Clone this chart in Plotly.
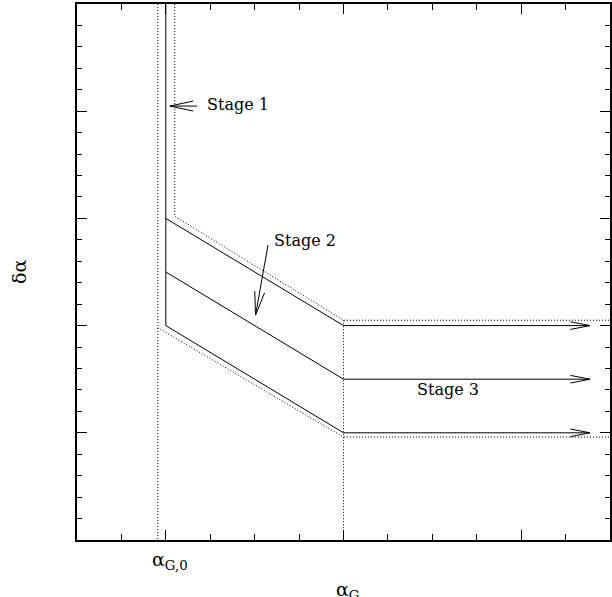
import math
import plotly.graph_objects as go

# ---- data ----
alpha_g0 = 2.0          # onset of stage 2 (solid vertical)
alpha_g1 = 6.0          # end of stage 2
x_arrow_tip = 11.55     # arrow tips of stage 3
band_start_y = [15.0, 12.5, 10.0]   # delta alpha at alpha_g0
band_end_y = [10.0, 7.5, 5.0]       # delta alpha at alpha_g1
# dotted envelope
upper_env_x = [2.2, 2.2, 6.0, 12.0]
upper_env_y = [25.0, 15.1, 10.25, 10.25]
left_env_x = [1.82, 1.82]
left_env_y = [25.0, 0.0]
lower_env_x = [1.82, 6.0, 12.0]
lower_env_y = [9.9, 4.8, 4.8]
mid_dot_x = [6.0, 6.0]
mid_dot_y = [10.25, 0.0]
# labels
stage_text = ["Stage 1", "Stage 2", "Stage 3"]
stage_x = [2.88, 4.39, 7.60]
stage_y = [20.3, 13.95, 7.04]
stage1_arrow = dict(tail=(2.70, 20.24), tip=(2.09, 20.24))
stage2_arrow = dict(tail=(4.30, 13.76), tip=(4.02, 10.49))
x_major_ticks = [2, 6, 10]
y_major_ticks = [5, 10, 15, 20]

XR = [0, 12]
YR = [0, 25]
W, H = 612, 597
ML, MR, MT, MB = 77, 2, 4, 57
sx = (W - ML - MR) / (XR[1] - XR[0])
sy = (H - MT - MB) / (YR[1] - YR[0])


def arrow_head(tip, tail, length=22, half_angle=12):
    tx, ty = tip[0] * sx, tip[1] * sy
    ux, uy = tail[0] * sx - tx, tail[1] * sy - ty
    n = math.hypot(ux, uy)
    ux, uy = ux / n, uy / n
    pts = []
    for s in (1, -1):
        a = math.radians(half_angle) * s
        bx = ux * math.cos(a) - uy * math.sin(a)
        by = ux * math.sin(a) + uy * math.cos(a)
        pts.append(((tx + bx * length) / sx, (ty + by * length) / sy))
    return [pts[0][0], tip[0], pts[1][0]], [pts[0][1], tip[1], pts[1][1]]


fig = go.Figure()
solid = dict(color="black", width=1)
dotted = dict(color="black", width=1, dash="1px,2px")


def add(x, y, line):
    fig.add_trace(go.Scatter(x=x, y=y, mode="lines", line=line,
                             showlegend=False, hoverinfo="skip"))


add([alpha_g0, alpha_g0], [YR[1], band_start_y[-1]], solid)
for y0, y1 in zip(band_start_y, band_end_y):
    add([alpha_g0, alpha_g1, x_arrow_tip], [y0, y1, y1], solid)
    hx, hy = arrow_head((x_arrow_tip, y1), (alpha_g1, y1), length=20, half_angle=11)
    add(hx, hy, solid)
add(upper_env_x, upper_env_y, dotted)
add(left_env_x, left_env_y, dotted)
add(lower_env_x, lower_env_y, dotted)
add(mid_dot_x, mid_dot_y, dotted)

for arr in (stage1_arrow, stage2_arrow):
    add([arr["tail"][0], arr["tip"][0]], [arr["tail"][1], arr["tip"][1]], solid)
    hx, hy = arrow_head(arr["tip"], arr["tail"], length=24, half_angle=12)
    add(hx, hy, solid)

# invisible trace to carry the mirrored (top/right) axes
fig.add_trace(go.Scatter(x=[XR[0]], y=[YR[0]], xaxis="x2", yaxis="y2", mode="markers",
                         marker=dict(opacity=0), showlegend=False, hoverinfo="skip"))

font = "DejaVu Serif"
for t, x, y in zip(stage_text, stage_x, stage_y):
    fig.add_annotation(x=x, y=y, text=t, showarrow=False, xanchor="left",
                       yanchor="middle", font=dict(family=font, size=16, color="black"))

fig.add_annotation(x=alpha_g0, y=0, yref="y", text="α<sub>G,0</sub>", showarrow=False,
                   xanchor="center", yanchor="top", yshift=-6, xshift=4,
                   font=dict(family=font, size=19, color="black"))
fig.add_annotation(x=0.5, xref="paper", y=0, yref="paper", text="α<sub>G</sub>",
                   showarrow=False, xanchor="center", yanchor="top", yshift=-36, xshift=4,
                   font=dict(family=font, size=19, color="black"))
fig.add_annotation(x=0, xref="paper", y=0.5, yref="paper", text="δα", textangle=-90,
                   showarrow=False, xanchor="center", yanchor="middle", xshift=-58,
                   font=dict(family=font, size=19, color="black"))

axis_common = dict(showline=True, linewidth=2, linecolor="black", mirror=True,
                   ticks="inside", ticklen=10, tickwidth=1, tickcolor="black",
                   showgrid=False, zeroline=False, showticklabels=False, automargin=False)
xminor = dict(tickmode="linear", tick0=0, dtick=1, ticks="inside",
              ticklen=6, tickcolor="black", tickwidth=1, showgrid=False)
yminor = dict(tickmode="linear", tick0=0, dtick=1, ticks="inside",
              ticklen=5, tickcolor="black", tickwidth=1, showgrid=False)

fig.update_layout(
    xaxis=dict(range=XR, tickmode="array", tickvals=x_major_ticks, minor=xminor, **axis_common),
    yaxis=dict(range=YR, tickmode="array", tickvals=y_major_ticks, minor=yminor, **axis_common),
    xaxis2=dict(range=XR, tickmode="array", tickvals=x_major_ticks, minor=xminor,
                overlaying="x", side="top", anchor="y", **axis_common),
    yaxis2=dict(range=YR, tickmode="array", tickvals=y_major_ticks, minor=yminor,
                overlaying="y", side="right", anchor="x", **axis_common),
    width=W, height=H, margin=dict(l=ML, r=MR, t=MT, b=MB),
    plot_bgcolor="white", paper_bgcolor="white")

post = ("document.body.style.margin='0px';"
        "var gd=document.getElementById('{plot_id}');"
        "Plotly.relayout(gd,{width:%d,height:%d});" % (W, H))
fig.write_html("out.html", config={"responsive": False, "displayModeBar": False},
               post_script=post)
